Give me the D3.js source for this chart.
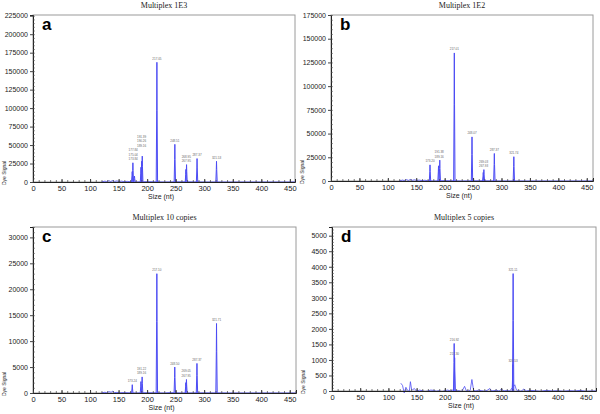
<!DOCTYPE html>
<html><head><meta charset="utf-8">
<script src="https://cdn.jsdelivr.net/npm/d3@7"></script>
<style>body{margin:0;background:#fff}svg{display:block}</style>
</head><body>
<svg id="c" width="600" height="414"></svg>
<script>
// ---- data ----
const titles = ["Multiplex 1E3", "Multiplex 1E2", "Multiplex 10 copies", "Multiplex 5 copies"];
const letters = ["a", "b", "c", "d"];
const yMax = [226000, 175000, 32000, 5280];
const yStep = [25000, 25000, 5000, 500];
const yMinor = [5000, 5000, 1000, 100];
const xMax = [459, 461, 461, 468];
const xTicks = [0, 50, 100, 150, 200, 250, 300, 350, 400, 450];

// peaks: size (nt), height (dye signal), label
const peakSizesA = [173.8, 175.0, 177.8, 189.2, 190.3, 191.4, 217.05, 248.5, 267.9, 269.0, 287.4, 321.5];
const peakHeightsA = [14000, 26000, 8000, 20000, 28000, 35000, 162000, 51000, 17000, 23500, 31700, 28000];
const peakLabelsA = ["173.84", "175.04", "177.84", "189.16", "190.26", "191.39", "217.05", "248.51", "267.95", "268.95", "287.37", "321.53"];

const peakSizesB = [174.2, 189.2, 191.4, 217.0, 248.1, 267.9, 269.0, 287.4, 321.7];
const peakHeightsB = [17000, 16000, 22000, 135000, 46500, 9000, 12000, 29000, 25600];
const peakLabelsB = ["173.20", "189.16", "191.38", "217.01", "248.07", "267.93", "269.03", "287.37", "321.74"];

const peakSizesC = [174.0, 189.2, 191.3, 217.1, 248.5, 267.9, 269.0, 287.4, 321.7];
const peakHeightsC = [1600, 2200, 3100, 23000, 5000, 2000, 2600, 5700, 13400];
const peakLabelsC = ["173.24", "189.16", "191.22", "217.10", "248.50", "267.95", "269.05", "287.37", "321.71"];

const peakSizesD = [216.6, 217.4, 320.6, 321.1];
const peakHeightsD = [1530, 1070, 850, 3780];
const peakLabelsD = ["216.92", "217.30", "320.53", "321.11"];

// baseline traces (size, signal)
const baseSizesA = [120, 126, 129, 133, 136, 140, 143, 147, 151, 155, 160, 165, 170, 180, 200, 230, 260, 300, 350, 400, 459];
const baseValuesA = [0, 1200, 500, 1800, 700, 2000, 800, 1500, 600, 1200, 400, 900, 300, 0, 500, 0, 300, 0, 0, 0, 0];
const baseSizesB = [120, 126, 129, 133, 136, 140, 143, 147, 151, 155, 160, 165, 170, 180, 200, 230, 260, 300, 350, 400, 461];
const baseValuesB = [0, 1000, 400, 1500, 600, 1600, 700, 1300, 500, 1000, 400, 800, 300, 0, 400, 0, 300, 0, 0, 0, 0];
const baseSizesC = [120, 126, 129, 133, 137, 140, 143, 147, 152, 160, 170, 180, 200, 230, 240, 260, 300, 350, 400, 461];
const baseValuesC = [0, 150, 60, 250, 150, 350, 80, 120, 40, 80, 20, 0, 60, 0, 80, 0, 30, 0, 0, 0];
const baseSizesD = [122, 125, 128, 131, 134, 137, 139, 141, 143, 146, 150, 155, 160, 165, 170, 175, 180, 185, 190, 195, 200, 205, 210, 213, 220, 225, 230, 235, 238, 242, 245, 248, 251, 255, 260, 265, 270, 275, 280, 283, 287, 292, 296, 300, 305, 310, 315, 324, 327, 331, 335, 340, 345, 350, 360, 370, 380, 390, 400, 410, 420, 430, 440, 450, 460, 468];
const baseValuesD = [250, 180, -60, 120, 20, -20, 300, 60, 40, 80, -10, 30, 10, -20, 0, 30, 20, -10, 10, -20, 10, 30, 0, 30, 0, 10, -20, 150, 10, 0, 20, 370, 20, 0, 30, 10, -10, 20, 80, 0, 10, 30, -10, 60, 0, 20, 0, 200, 30, 10, -10, 60, 0, 20, 10, -10, 20, 0, 10, -10, 10, 0, 20, -10, 0, 0];

const peakSizes = [peakSizesA, peakSizesB, peakSizesC, peakSizesD];
const peakHeights = [peakHeightsA, peakHeightsB, peakHeightsC, peakHeightsD];
const peakLabels = [peakLabelsA, peakLabelsB, peakLabelsC, peakLabelsD];
const baseSizes = [baseSizesA, baseSizesB, baseSizesC, baseSizesD];
const baseValues = [baseValuesA, baseValuesB, baseValuesC, baseValuesD];

// ---- layout (style) ----
const boxes = [
  {l: 33, r: 295, t: 15, b: 182},
  {l: 331, r: 593, t: 15, b: 181},
  {l: 33, r: 296, t: 227, b: 393},
  {l: 332, r: 596, t: 227, b: 391}
];
const peakHalfWidth = 1.2;
const traceColor = "#4c4cf4";

const svg = d3.select("#c");

function overlaps(a, b) {
  return a.x < b.x + b.width && b.x < a.x + a.width && a.y < b.y + b.height && b.y < a.y + a.height;
}

boxes.forEach((bx, i) => {
  const x = d3.scaleLinear().domain([0, xMax[i]]).range([bx.l, bx.r]);
  const y = d3.scaleLinear().domain([0, yMax[i]]).range([bx.b, bx.t]);
  const g = svg.append("g");

  // title
  g.append("text").attr("x", (bx.l + bx.r) / 2).attr("y", bx.t - 7)
    .attr("text-anchor", "middle").attr("font-family", "Liberation Serif")
    .attr("font-size", 8).attr("fill", "#222").text(titles[i]);

  // frame
  g.append("rect").attr("x", bx.l).attr("y", bx.t).attr("width", bx.r - bx.l).attr("height", bx.b - bx.t)
    .attr("fill", "none").attr("stroke", "#9a9a9a").attr("stroke-width", 1);

  // clip
  const cid = "clip" + i;
  svg.append("clipPath").attr("id", cid).append("rect")
    .attr("x", bx.l).attr("y", bx.t).attr("width", bx.r - bx.l).attr("height", bx.b - bx.t + 2);

  // trace: baseline + peaks
  const base = baseSizes[i].map((s, k) => [s, baseValues[i][k]]);
  g.append("path").datum(base).attr("clip-path", `url(#${cid})`)
    .attr("fill", "none").attr("stroke", traceColor).attr("stroke-width", 0.8)
    .attr("d", d3.line().x(d => x(d[0])).y(d => y(d[1])));

  peakSizes[i].forEach((s, k) => {
    const h = peakHeights[i][k];
    const pts = [[s - peakHalfWidth, 0], [s - peakHalfWidth * 0.3, h * 0.6], [s, h], [s + peakHalfWidth * 0.3, h * 0.6], [s + peakHalfWidth, 0]];
    g.append("path").datum(pts).attr("clip-path", `url(#${cid})`)
      .attr("fill", "#c8c8ff").attr("fill-opacity", 0.5)
      .attr("stroke", traceColor).attr("stroke-width", 1)
      .attr("d", d3.line().x(d => x(d[0])).y(d => y(d[1])));
  });

  // peak labels: groups of close peaks stacked above the tallest
  const order = peakSizes[i].map((s, k) => k).sort((p, q) => peakSizes[i][p] - peakSizes[i][q]);
  let groups = [];
  order.forEach(k => {
    const last = groups[groups.length - 1];
    if (last && peakSizes[i][k] - peakSizes[i][last[last.length - 1]] < 3) last.push(k);
    else groups.push([k]);
  });
  const placed = [];
  groups.forEach(gr => {
    const top = d3.min(gr, k => y(peakHeights[i][k]));
    const cx = d3.mean(gr, k => x(peakSizes[i][k]));
    const single = i === 3; // panel d: labels at each peak's own height
    gr.forEach((k, r) => {
      let ly = single ? y(peakHeights[i][k]) - 2.5 : top - 2.5 - r * 3.6;
      const t = g.append("text").attr("x", cx).attr("y", ly).attr("text-anchor", "middle")
        .attr("font-family", "Liberation Sans").attr("font-size", 3).attr("fill", "#666")
        .text(peakLabels[i][k]);
      let bb = t.node().getBBox();
      let tries = 0;
      while (placed.some(p => overlaps(p, bb)) && tries < 8) {
        ly -= 1; t.attr("y", ly); bb = t.node().getBBox(); tries++;
      }
      placed.push(bb);
    });
  });

  // axes
  const yAxis = d3.axisLeft(y).tickValues(d3.range(0, yMax[i] + 1, yStep[i])).tickSize(3).tickPadding(2).tickFormat(d3.format("d"));
  const ya = g.append("g").attr("transform", `translate(${bx.l},0)`).call(yAxis);
  ya.select(".domain").attr("stroke", "#222");
  ya.selectAll("text").attr("font-family", "Liberation Sans").attr("font-size", 7).attr("fill", "#222");
  ya.selectAll(".tick line").attr("stroke", "#444");
  const yMinorAxis = d3.axisRight(y).tickValues(d3.range(0, yMax[i] + 1, yMinor[i])).tickSize(2).tickFormat("");
  const ym = g.append("g").attr("transform", `translate(${bx.l},0)`).call(yMinorAxis);
  ym.select(".domain").remove();
  ym.selectAll(".tick line").attr("stroke", "#555").attr("stroke-width", 0.6);

  const xAxis = d3.axisBottom(x).tickValues(xTicks).tickSize(-3).tickPadding(4);
  const xa = g.append("g").attr("transform", `translate(0,${bx.b})`).call(xAxis);
  xa.select(".domain").attr("stroke", "#222");
  xa.selectAll("text").attr("font-family", "Liberation Sans").attr("font-size", 7.5).attr("fill", "#222");
  xa.selectAll(".tick line").attr("stroke", "#333");
  const xMinorAxis = d3.axisBottom(x).tickValues(d3.range(0, xMax[i], 10)).tickSize(-2).tickFormat("");
  const xm = g.append("g").attr("transform", `translate(0,${bx.b})`).call(xMinorAxis);
  xm.select(".domain").remove();
  xm.selectAll(".tick line").attr("stroke", "#444").attr("stroke-width", 0.7);

  // axis titles
  g.append("text").attr("x", (bx.l + bx.r) / 2 - 3).attr("y", bx.b + 17).attr("text-anchor", "middle")
    .attr("font-family", "Liberation Sans").attr("font-size", 7).attr("fill", "#222").text("Size (nt)");
  g.append("text").attr("transform", `translate(${bx.l - 27},${bx.b - 9}) rotate(-90)`).attr("text-anchor", "middle")
    .attr("font-family", "Liberation Sans").attr("font-size", 5).attr("fill", "#222").text("Dye Signal");

  // panel letter
  g.append("text").attr("x", bx.l + 9).attr("y", bx.t + 15).attr("font-family", "Liberation Sans")
    .attr("font-weight", "bold").attr("font-size", 17).attr("fill", "#000").text(letters[i]);
});
</script>
</body></html>
